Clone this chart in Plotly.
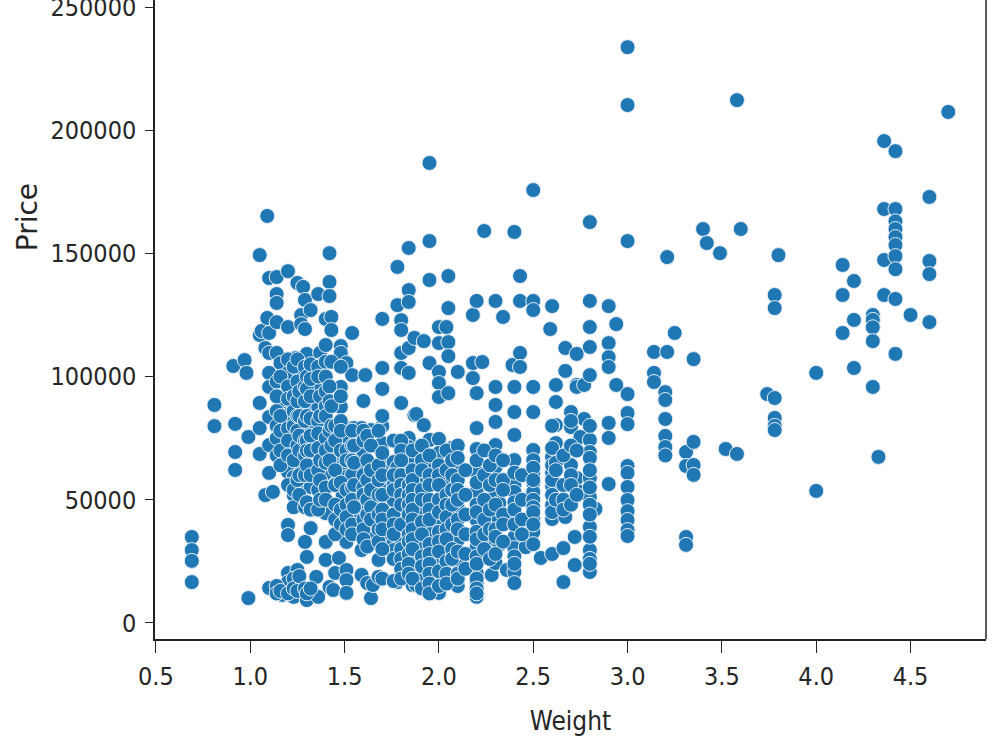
import plotly.graph_objects as go

# Laptop weight (kg) for each column of points, and the prices recorded at that weight.
weights = [
    0.69, 0.81, 0.91, 0.92, 0.97, 0.98, 0.99, 1.05, 1.06, 1.08, 1.09, 1.1, 1.12, 1.14, 1.16, 1.17,
    1.2, 1.23, 1.24, 1.25, 1.26, 1.27, 1.28, 1.29, 1.3, 1.32, 1.35, 1.36, 1.37, 1.4, 1.42, 1.43,
    1.44, 1.45, 1.47, 1.48, 1.49, 1.51, 1.54, 1.55, 1.59, 1.6, 1.61, 1.62, 1.63, 1.64, 1.65, 1.68,
    1.7, 1.76, 1.78, 1.8, 1.84, 1.86, 1.87, 1.88, 1.91, 1.92, 1.95, 2.0, 2.04, 2.05, 2.07, 2.1,
    2.18, 2.2, 2.23, 2.24, 2.28, 2.3, 2.32, 2.34, 2.36, 2.39, 2.4, 2.43, 2.46, 2.5, 2.54, 2.59,
    2.6, 2.62, 2.66, 2.67, 2.7, 2.72, 2.73, 2.75, 2.77, 2.8, 2.83, 2.9, 2.94, 3.0, 3.14, 3.2,
    3.21, 3.25, 3.31, 3.35, 3.4, 3.42, 3.49, 3.52, 3.58, 3.6, 3.74, 3.78, 3.8, 4.0, 4.14, 4.2,
    4.3, 4.33, 4.36, 4.42, 4.5, 4.6, 4.7,
]
prices_by_weight = [
    [34900, 29600, 25200, 16600],
    [88500, 79900],
    [104300],
    [80800, 69400, 62100],
    [106700],
    [101500],
    [75500, 10100],
    [149300, 116900, 89300, 79100, 68600],
    [118500],
    [111600, 51900],
    [165200, 123800],
    [140000, 117700, 109600, 101500, 95800, 83600, 72200, 60900, 14200],
    [53200],
    [140400, 133500, 129900, 122100, 109600],
    [105500, 90500],
    [90100, 11400],
    [142800, 120100, 101500, 85200, 84400, 61300, 39800, 35700, 20300, 16600],
    [73000, 59200, 51900, 10600],
    [107500, 96600],
    [138000, 21500],
    [101900, 64900],
    [125000, 121300],
    [136400, 49900],
    [131100, 119300, 49500, 32900],
    [109200, 88500, 79900, 56800, 26800, 9300],
    [127000, 55200, 38500],
    [64100, 18700],
    [133500, 94600, 87700, 10600],
    [109600, 104700, 72200],
    [123400, 112800, 79500, 60900, 44600, 32900, 25600],
    [150100, 138400, 132700, 14600],
    [124200, 118900],
    [13400],
    [68600, 20300],
    [26400],
    [112400, 109600, 95800, 87700, 63300],
    [51900, 43000],
    [105500, 75100, 59200, 32900, 21500, 17400, 12200],
    [117700, 100600, 79100, 60100, 44600],
    [79100, 36500],
    [79100, 29600, 19500],
    [90100, 69400, 64500, 47100],
    [100600],
    [16200],
    [56800, 54800],
    [78300, 36500, 10100],
    [15400],
    [48700, 25600, 18700],
    [123400, 103500, 95000, 79900, 73000, 64100, 56000, 34900],
    [65300, 56000, 49900, 32500, 29600],
    [144500, 129000, 63300, 16600],
    [122900, 118900, 109600, 103500, 89300, 44600, 34100],
    [152200, 135100, 130300, 111600, 101500, 75100, 71400, 66100, 60900, 39800],
    [26800, 22300, 21500, 15400],
    [115700, 84400],
    [84800, 15400],
    [58000, 44600, 31200, 18700],
    [114400, 80300],
    [186700, 155000, 139200, 105500, 74300, 64100, 36500],
    [120100, 113600, 101900, 97400, 91700, 74700, 69000, 41000, 24300, 18300, 12200],
    [120100, 57200, 29600],
    [140800, 127800, 114000, 108300, 93300],
    [71000, 34900],
    [101900, 63300, 46700, 33700, 24800, 15000],
    [125000, 105500, 99400],
    [130700, 93300, 79100, 70600, 61300, 53200, 41800, 30800, 20300, 16200, 10600],
    [105900],
    [159100],
    [34900, 19500],
    [130700, 95800, 88500, 81600, 72200, 63300, 52800, 43000, 31700, 24300],
    [48700, 31700],
    [124200],
    [21500],
    [104700],
    [158700, 95800, 85600, 76300, 66100, 56000, 53200, 43000, 34900, 30400, 20700, 16200],
    [140800, 130700, 109600, 103900],
    [30800],
    [175700, 130700, 127000, 95800, 85600, 70200, 66100, 60900, 56800, 53200, 42600, 36900],
    [26400],
    [119300],
    [128600, 67400, 60900, 55600, 47900, 42200, 28000],
    [96600, 89700, 80300, 73000],
    [30400, 16600],
    [111600, 102300, 43000],
    [85600, 79500, 64100],
    [34900, 23500],
    [109200, 96600, 95800, 58800],
    [75500, 53200],
    [96600, 82800],
    [162700, 130700, 120100, 112000, 100600, 74300, 69400, 58800, 51100, 39000, 29600, 20700],
    [46300],
    [128600, 113600, 107900, 103900, 81200, 75100, 56400],
    [121300, 96600],
    [233700, 210200, 155000, 92900, 85200, 80700, 63700, 60900, 55200, 49900, 45400, 41800, 37700, 35300],
    [110000, 101500, 97800],
    [93700, 90500, 82800, 75900, 71400, 68000],
    [148500, 110000],
    [117700],
    [69400, 63700, 34900, 31700],
    [107100, 73500, 64100, 60100],
    [159900],
    [154200],
    [150100],
    [70600],
    [212200, 68600],
    [159900],
    [92900],
    [133100, 127800, 91300, 83200, 80000, 78300],
    [149300],
    [101500, 53600],
    [145300, 133100, 117700],
    [138800, 123000, 103500],
    [125000, 123000, 120000, 114400, 95800],
    [67400],
    [195600, 168000, 147300, 133100],
    [191500, 168000, 163000, 159900, 156600, 153400, 148900, 143600, 131500, 109200],
    [125000],
    [172900, 146900, 141600, 122100],
    [207400],
]

# Further laptops in the crowded middle of the cloud, where the points overlap.
crowded_weights = [
    1.14, 1.16, 1.2, 1.23, 1.25, 1.26, 1.29, 1.3, 1.32, 1.36, 1.37, 1.4, 1.42, 1.43, 1.45, 1.48,
    1.51, 1.54, 1.55, 1.6, 1.62, 1.64, 1.68, 1.7, 1.76, 1.8, 1.84, 1.86, 1.91, 1.95, 2.0, 2.04,
    2.07, 2.1, 2.14, 2.2, 2.24, 2.27, 2.3, 2.34, 2.4, 2.44, 2.5, 2.6, 2.62, 2.66, 2.7, 2.73, 2.8,
]
crowded_prices = [
    [98000, 92000, 86000, 80000, 75000, 68000, 15000, 12000],
    [100000, 84000, 78000, 70000, 64000, 13000],
    [107000, 96000, 91000, 79000, 74000, 68000, 56000, 12000],
    [104000, 92000, 86000, 80000, 66000, 54000, 47000, 18000, 14000],
    [107000, 98000, 90000, 84000, 78000, 72000, 58000, 13000],
    [94000, 84000, 76000, 70000, 60000, 52000, 19000],
    [104000, 96000, 90000, 82000, 74000, 68000, 60000, 47000, 14000],
    [100000, 95000, 84000, 74000, 70000, 64000, 49000, 12000],
    [105000, 99000, 92000, 83000, 76000, 70000, 60000, 46000, 14000],
    [104000, 100000, 82000, 77000, 71000, 62000, 54000, 46000],
    [92000, 84000, 66000, 58000, 50000],
    [106000, 100000, 94000, 88000, 84000, 75000, 70000, 65000, 55000, 50000],
    [96000, 90000, 78000, 66000],
    [106000, 88000, 80000, 72000],
    [80000, 74000, 62000, 56000, 48000, 42000, 36000],
    [104000, 92000, 82000, 78000, 70000, 57000, 46000, 40000],
    [70000, 66000, 54000, 48000, 43000, 38000],
    [78000, 72000, 66000, 55000, 50000, 40000, 36000],
    [72000, 65000, 56000, 47000],
    [78000, 74000, 60000, 55000, 52000, 42000, 38000, 34000],
    [76000, 66000, 58000, 50000, 44000, 31000],
    [72000, 62000, 54000, 47000, 42000],
    [78000, 64000, 58000, 52000, 44000, 38000, 33000],
    [84000, 69000, 60000, 52000, 46000, 42000, 38000, 30000, 18000],
    [74000, 60000, 54000, 44000, 40000, 36000, 26000, 17000],
    [74000, 70000, 66000, 60000, 56000, 52000, 48000, 40000, 30000, 26000, 22000, 18000],
    [56000, 52000, 48000, 44000, 36000, 33000, 28000, 24000, 20000],
    [70000, 62000, 58000, 54000, 50000, 46000, 42000, 38000, 34000, 30000, 18000],
    [72000, 66000, 62000, 54000, 50000, 41000, 36000, 27000, 23000, 14000],
    [68000, 60000, 56000, 50000, 46000, 42000, 32000, 28000, 24000, 20000, 16000, 12000],
    [64000, 60000, 56000, 50000, 45000, 37000, 33000, 29000, 21000, 15000],
    [70000, 62000, 52000, 48000, 43000, 38000, 34000, 25000, 20000, 16000],
    [66000, 60000, 54000, 48000, 40000, 30000, 26000],
    [72000, 67000, 58000, 54000, 50000, 42000, 38000, 29000, 20000, 18000],
    [62000, 52000, 44000, 36000, 28000, 22000],
    [66000, 57000, 48000, 45000, 37000, 34000, 27000, 24000, 18000, 14000, 12000],
    [70000, 60000, 50000, 42000, 36000, 30000],
    [64000, 56000, 46000, 38000, 26000],
    [68000, 58000, 48000, 38000, 35000, 28000],
    [66000, 58000, 54000, 44000, 40000, 33000],
    [61000, 49000, 46000, 40000, 27000, 24000],
    [60000, 50000, 42000, 36000],
    [63000, 58000, 50000, 47000, 45000, 40000, 32000],
    [80000, 71000, 64000, 58000, 52000, 45000],
    [65000, 62000, 50000],
    [68000, 56000, 50000, 46000],
    [82000, 72000, 60000, 56000, 48000],
    [70000, 52000],
    [80000, 67000, 62000, 55000, 48000, 44000, 35000, 26000, 24000],
]

weight_values = [w for w, col in zip(weights + crowded_weights, prices_by_weight + crowded_prices) for _ in col]
price_values = [p for col in prices_by_weight + crowded_prices for p in col]

x_tick_labels = ["0.5", "1.0", "1.5", "2.0", "2.5", "3.0", "3.5", "4.0", "4.5"]
y_tick_labels = ["0", "50000", "100000", "150000", "200000", "250000"]

TICK_FONT = dict(family="DejaVu Sans Condensed, DejaVu Sans", size=25, color="#262626")
TITLE_FONT = dict(family="DejaVu Sans Condensed, DejaVu Sans", size=26, color="#262626")
INK = "#222222"

fig = go.Figure(
    go.Scatter(
        x=weight_values,
        y=price_values,
        mode="markers",
        marker=dict(color="#1f77b4", size=15, line=dict(color="#e8f0f7", width=1)),
        showlegend=False,
    )
)

fig.update_layout(
    width=1000,
    height=750,
    margin=dict(l=155, r=14, t=0, b=111),
    paper_bgcolor="white",
    plot_bgcolor="white",
    # Right-hand frame line; the top edge falls outside the visible canvas.
    shapes=[
        dict(type="line", xref="paper", yref="paper", x0=1, x1=1, y0=0, y1=1,
             line=dict(color=INK, width=1.5))
    ],
    # The y-axis title sits well above the middle of the visible axis.
    annotations=[
        dict(text="Price", textangle=-90, xref="paper", yref="paper", x=0, y=0.66,
             xanchor="center", yanchor="middle", xshift=-128, showarrow=False,
             font=dict(family="DejaVu Sans", size=28, color="#262626"))
    ],
)

fig.update_xaxes(
    automargin=False,
    range=[0.495, 4.9],
    tickmode="array",
    tickvals=[float(t) for t in x_tick_labels],
    ticktext=x_tick_labels,
    ticks="outside",
    ticklen=12,
    tickwidth=1.2,
    tickcolor=INK,
    showline=True,
    linecolor=INK,
    linewidth=1.5,
    showgrid=False,
    zeroline=False,
    tickfont=TICK_FONT,
    ticklabelstandoff=2,
    title=dict(text="Weight", font=TITLE_FONT, standoff=22),
)
fig.update_yaxes(
    automargin=False,
    range=[-6500, 252840],
    tickmode="array",
    tickvals=[int(t) for t in y_tick_labels],
    ticktext=y_tick_labels,
    ticks="outside",
    ticklen=8,
    tickwidth=1.2,
    tickcolor=INK,
    showline=True,
    linecolor=INK,
    linewidth=1.5,
    showgrid=False,
    zeroline=False,
    tickfont=TICK_FONT,
    ticklabelstandoff=4,
    ticklabeloverflow="allow",
)

fig.write_html("out.html")
